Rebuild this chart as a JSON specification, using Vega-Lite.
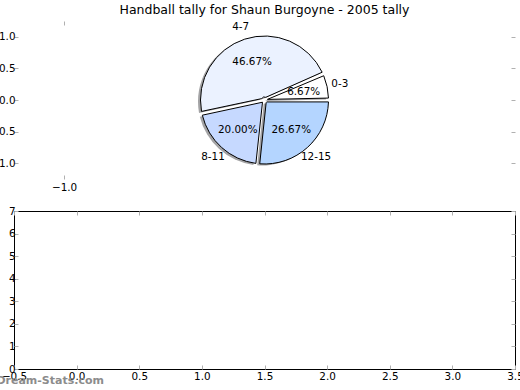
{
  "$schema": "https://vega.github.io/schema/vega-lite/v6.json",
  "padding": {"left": -11, "top": 4, "right": 0, "bottom": 0},
  "autosize": {"type": "pad"},
  "background": "white",
  "data": {
    "values": [
      {"range": "0-3", "count": 1, "pct": "6.67%", "order": 1},
      {"range": "4-7", "count": 7, "pct": "46.67%", "order": 2},
      {"range": "8-11", "count": 3, "pct": "20.00%", "order": 3},
      {"range": "12-15", "count": 4, "pct": "26.67%", "order": 4}
    ]
  },
  "bounds": "flush",
  "spacing": 32,
  "vconcat": [
    {
      "width": 501,
      "height": 158,
      "view": {"stroke": null},
      "title": {
        "text": "Handball tally for Shaun Burgoyne - 2005 tally",
        "fontSize": 12.5,
        "fontWeight": "normal",
        "font": "DejaVu Sans",
        "color": "#000",
        "offset": 4
      },
      "layer": [
        {
          "encoding": {
            "x": {
              "datum": 0,
              "type": "quantitative",
              "scale": {"domain": [-1.25, 1.25], "nice": false, "zero": false},
              "axis": {"orient": "bottom", "values": [-1], "format": ".1f", "domain": false, "grid": false, "tickSize": -4, "labelPadding": 7, "title": null}
            },
            "y": {
              "datum": 0,
              "type": "quantitative",
              "scale": {"domain": [-1.25, 1.25], "nice": false, "zero": false},
              "axis": {"orient": "left", "values": [-1, -0.5, 0, 0.5, 1], "format": ".1f", "domain": false, "grid": false, "tickSize": -4, "labelPadding": 3, "title": null}
            },
            "theta": {"field": "count", "type": "quantitative", "stack": true, "scale": {"range": [1.5708, -4.7124]}},
            "order": {"field": "order", "type": "quantitative"}
          },
          "layer": [
            {
              "mark": {"type": "arc", "outerRadius": 64, "innerRadius": 3, "padAngle": 0.06, "fill": "#48484c", "opacity": 0.5, "xOffset": -2.5, "yOffset": 1.5}
            },
            {
              "mark": {"type": "arc", "outerRadius": 64, "innerRadius": 3, "padAngle": 0.06, "stroke": "#000", "strokeWidth": 1},
              "encoding": {
                "color": {
                  "field": "range",
                  "type": "nominal",
                  "scale": {"domain": ["0-3", "4-7", "8-11", "12-15"], "range": ["#ffffff", "#ebf2ff", "#c6d9ff", "#b4d5ff"]},
                  "legend": null
                }
              }
            },
            {
              "mark": {"type": "text", "radius": 40, "fontSize": 10.4, "font": "DejaVu Sans", "color": "#000", "align": "center", "baseline": "middle"},
              "encoding": {"text": {"field": "pct"}}
            },
            {
              "mark": {"type": "text", "radius": 77, "fontSize": 10.4, "font": "DejaVu Sans", "color": "#000", "align": "center", "baseline": "middle"},
              "encoding": {"text": {"field": "range"}}
            }
          ]
        },
        {
          "mark": {"type": "point", "opacity": 0},
          "encoding": {
            "x": {
              "datum": 0,
              "type": "quantitative",
              "scale": {"domain": [-1.25, 1.25], "nice": false, "zero": false},
              "axis": {"orient": "top", "values": [-1], "labels": false, "domain": false, "grid": false, "tickSize": -4, "title": null}
            },
            "y": {
              "datum": 0,
              "type": "quantitative",
              "scale": {"domain": [-1.25, 1.25], "nice": false, "zero": false},
              "axis": {"orient": "right", "values": [-1, -0.5, 0, 0.5, 1], "labels": false, "domain": false, "grid": false, "tickSize": -4, "title": null}
            }
          }
        }
      ],
      "resolve": {"scale": {"x": "independent", "y": "independent"}}
    },
    {
      "width": 501,
      "height": 158,
      "view": {"stroke": "#000", "strokeWidth": 1},
      "title": {
        "text": "Dream-Stats.com",
        "orient": "bottom",
        "anchor": "start",
        "fontSize": 11,
        "fontWeight": "bold",
        "font": "DejaVu Sans",
        "color": "#8c8c8c",
        "offset": -6,
        "dx": -5
      },
      "layer": [
        {
          "mark": {"type": "point", "opacity": 0},
          "encoding": {
            "x": {
              "datum": 0,
              "type": "quantitative",
              "scale": {"domain": [-0.5, 3.5], "nice": false, "zero": false},
              "axis": {"orient": "bottom", "values": [-0.5, 0, 0.5, 1, 1.5, 2, 2.5, 3, 3.5], "format": ".1f", "domain": false, "grid": false, "tickSize": -4, "labelPadding": 6, "title": null, "labelFlush": false}
            },
            "y": {
              "datum": 0,
              "type": "quantitative",
              "scale": {"domain": [0, 7], "nice": false, "zero": false},
              "axis": {"orient": "left", "values": [0, 1, 2, 3, 4, 5, 6, 7], "format": "d", "domain": false, "grid": false, "tickSize": -4, "labelPadding": 3, "title": null, "labelFlush": false}
            }
          }
        },
        {
          "mark": {"type": "point", "opacity": 0},
          "encoding": {
            "x": {
              "datum": 0,
              "type": "quantitative",
              "scale": {"domain": [-0.5, 3.5], "nice": false, "zero": false},
              "axis": {"orient": "top", "values": [-0.5, 0, 0.5, 1, 1.5, 2, 2.5, 3, 3.5], "labels": false, "domain": false, "grid": false, "tickSize": -4, "title": null}
            },
            "y": {
              "datum": 0,
              "type": "quantitative",
              "scale": {"domain": [0, 7], "nice": false, "zero": false},
              "axis": {"orient": "right", "values": [0, 1, 2, 3, 4, 5, 6, 7], "labels": false, "domain": false, "grid": false, "tickSize": -4, "title": null}
            }
          }
        }
      ],
      "resolve": {"scale": {"x": "independent", "y": "independent"}}
    }
  ],
  "config": {
    "font": "DejaVu Sans",
    "axis": {
      "labelFont": "DejaVu Sans",
      "labelFontSize": 10.4,
      "labelColor": "#000",
      "tickColor": "#b0b0b0",
      "tickWidth": 1,
      "labelFlush": false
    }
  }
}
